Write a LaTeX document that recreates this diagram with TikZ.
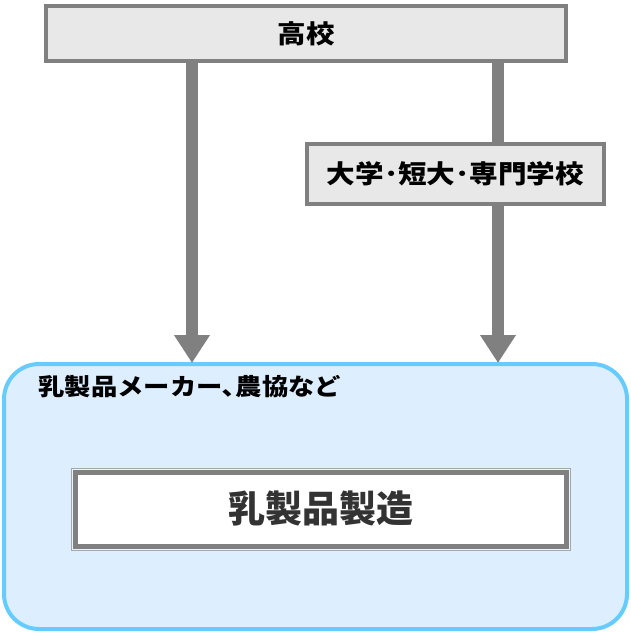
\documentclass[tikz,border=0pt]{standalone}
\usepackage{fontspec}
\usepackage{xcolor}
\usepackage{tikz}
\usetikzlibrary{positioning,arrows.meta}
\newfontfamily\jpfont{Noto Sans CJK JP}
\newfontfamily\jpwide{Noto Sans CJK JP}[FakeStretch=1.12]
\definecolor{boxgray}{HTML}{E8E8E8}
\definecolor{linegray}{HTML}{808080}
\definecolor{paleblue}{HTML}{DDEEFF}
\definecolor{skyblue}{HTML}{66CCFF}

\begin{document}
\begin{tikzpicture}[
  x=1pt, y=-1pt,
  school/.style={rectangle, draw=linegray, line width=4pt, fill=boxgray,
                 font=\jpwide\bfseries\fontsize{25.5}{28}\selectfont},
  arrow/.style={-{Triangle[width=34pt,length=28pt]}, draw=linegray, fill=linegray,
                line width=12pt, shorten >=-1pt},
  link/.style={draw=linegray, line width=12pt}
]
  \useasboundingbox (0,0) rectangle (631,633);
  % industry field
  \node (field) [rectangle, rounded corners=35pt, draw=skyblue, line width=4pt,
                 fill=paleblue, minimum width=623pt, minimum height=265pt]
                at (315.5,496.5) {};
  \node (maker) [anchor=west, font=\jpwide\bfseries\fontsize{23.5}{26}\selectfont]
                at (35,387) {乳製品メーカー､農協など};
  \node (work) [rectangle, draw=linegray, line width=5pt, fill=white,
                preaction={draw=gray!70, line width=9pt},
                preaction={draw=paleblue!60!white, line width=7pt},
                minimum width=491pt, minimum height=74pt,
                text=black!80, font=\jpfont\bfseries\fontsize{37}{40}\selectfont]
                at (320.5,509) {乳製品製造};

  % schools
  \node (high) [school, minimum width=520pt, minimum height=55pt] at (306,33.5) {高校};
  \node (univ) [school, minimum width=297pt, minimum height=60pt] at (455.5,174)
               {大学･短大･専門学校};

  \coordinate (lx) at (192,0);
  \coordinate (rx) at (498,0);
  \draw[arrow] (high.south -| lx) -- (field.north -| lx);
  \draw[link] (high.south -| rx) -- (univ.north -| rx);
  \draw[arrow] (univ.south -| rx) -- (field.north -| rx);
\end{tikzpicture}
\end{document}
